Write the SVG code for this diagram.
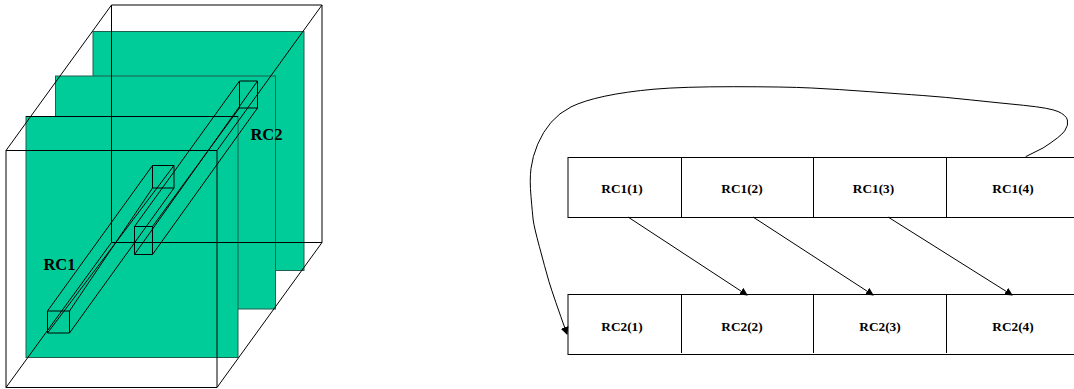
<svg xmlns="http://www.w3.org/2000/svg" width="1074" height="389" viewBox="0 0 1074 389">
<style>
.plane{fill:#00cc99;stroke:#1f5f4f;stroke-width:1}
.l{fill:none;stroke:#000;stroke-width:1}
.box{fill:#fff;stroke:#000;stroke-width:1}
text{font-family:"Liberation Serif",serif;font-weight:bold;fill:#000;text-anchor:middle}
.s{font-size:13.300px}
.b{font-size:16.500px}
</style>
<defs><marker id="a" viewBox="0 0 8 8" refX="7" refY="4" markerWidth="8" markerHeight="8" orient="auto" markerUnits="userSpaceOnUse"><path d="M0 0L8 4L0 8Z" fill="#000"/></marker></defs>
<g id="planes">
<rect class="plane" x="93" y="31.500" width="211" height="239"/>
<rect class="plane" x="55.500" y="76" width="220" height="233"/>
<rect class="plane" x="26" y="116.500" width="212" height="241"/>
<path class="l" d="M26 116.500H238"/>
</g>
<g id="cube"><path class="l" d="M6 150.500H217V387.500H6ZM111.500 5H322V242.500H111.500ZM6 150.500L111.500 5M217 150.500L322 5M6 387.500L111.500 242.500M217 387.500L322 242.500"/></g>
<g id="rc1-bar"><path class="l" d="M47.500 311H69.500V333H47.500ZM152.500 165.500H174V188H152.500ZM47.500 311L152.500 165.500M69.500 333L174 188M47.500 333L174 165.500M69.500 311L152.500 188"/></g>
<g id="rc2-bar"><path class="l" d="M134.500 226.500H152.500V254.500H134.500ZM239.500 81H257.500V108H239.500ZM134.500 226.500L239.500 81M152.500 254.500L257.500 108M134.500 254.500L257.500 81M152.500 226.500L239.500 108"/></g>
<text class="b" x="59.500" y="270">RC1</text>
<text class="b" x="266.500" y="140">RC2</text>
<g id="rc1-row">
<rect class="box" x="568" y="157.500" width="507" height="60"/>
<path class="l" d="M681.500 157.500V217.500M813.500 157.500V217.500M946.500 157.500V217.500"/>
<text class="s" x="622" y="193">RC1(1)</text><text class="s" x="742" y="193">RC1(2)</text><text class="s" x="873.500" y="193">RC1(3)</text><text class="s" x="1013" y="193">RC1(4)</text>
</g>
<g id="rc2-row">
<rect class="box" x="568" y="294.500" width="507" height="60"/>
<path class="l" d="M681.500 294.500V353M813.500 294.500V353M946.500 294.500V353"/>
<text class="s" x="622" y="331">RC2(1)</text><text class="s" x="742" y="331">RC2(2)</text><text class="s" x="880" y="331">RC2(3)</text><text class="s" x="1013" y="331">RC2(4)</text>
</g>
<g id="connectors">
<path class="l" marker-end="url(#a)" d="M628 217L747 295"/>
<path class="l" marker-end="url(#a)" d="M753 217L873 295"/>
<path class="l" marker-end="url(#a)" d="M888 217L1012 295"/>
<path class="l" marker-end="url(#a)" d="M1025.600 156.700L1043 148Q1060.600 136.700 1064.700 130.900Q1068.800 125 1067.400 120Q1066 115 1058 111.500Q1050 108 1023.500 105.300Q997 102.700 970.500 99.900Q944 97 922.800 95.500Q901.600 94 869.800 91.700Q838 89.300 811.500 88Q785 86.700 733.800 86.700Q682.500 86.700 654 89.200Q626 91.700 604.800 96.200Q583.600 100.700 571 106.900Q559 113 551 122.400Q543 131.700 537.700 144.200Q532.400 156.700 531 168.400Q529.500 180 531 196.500Q532.400 213 533.200 220Q534 226.700 539.400 246.700Q544.700 266.700 549 281.700Q553.600 296.700 567 334"/>
</g>
</svg>
